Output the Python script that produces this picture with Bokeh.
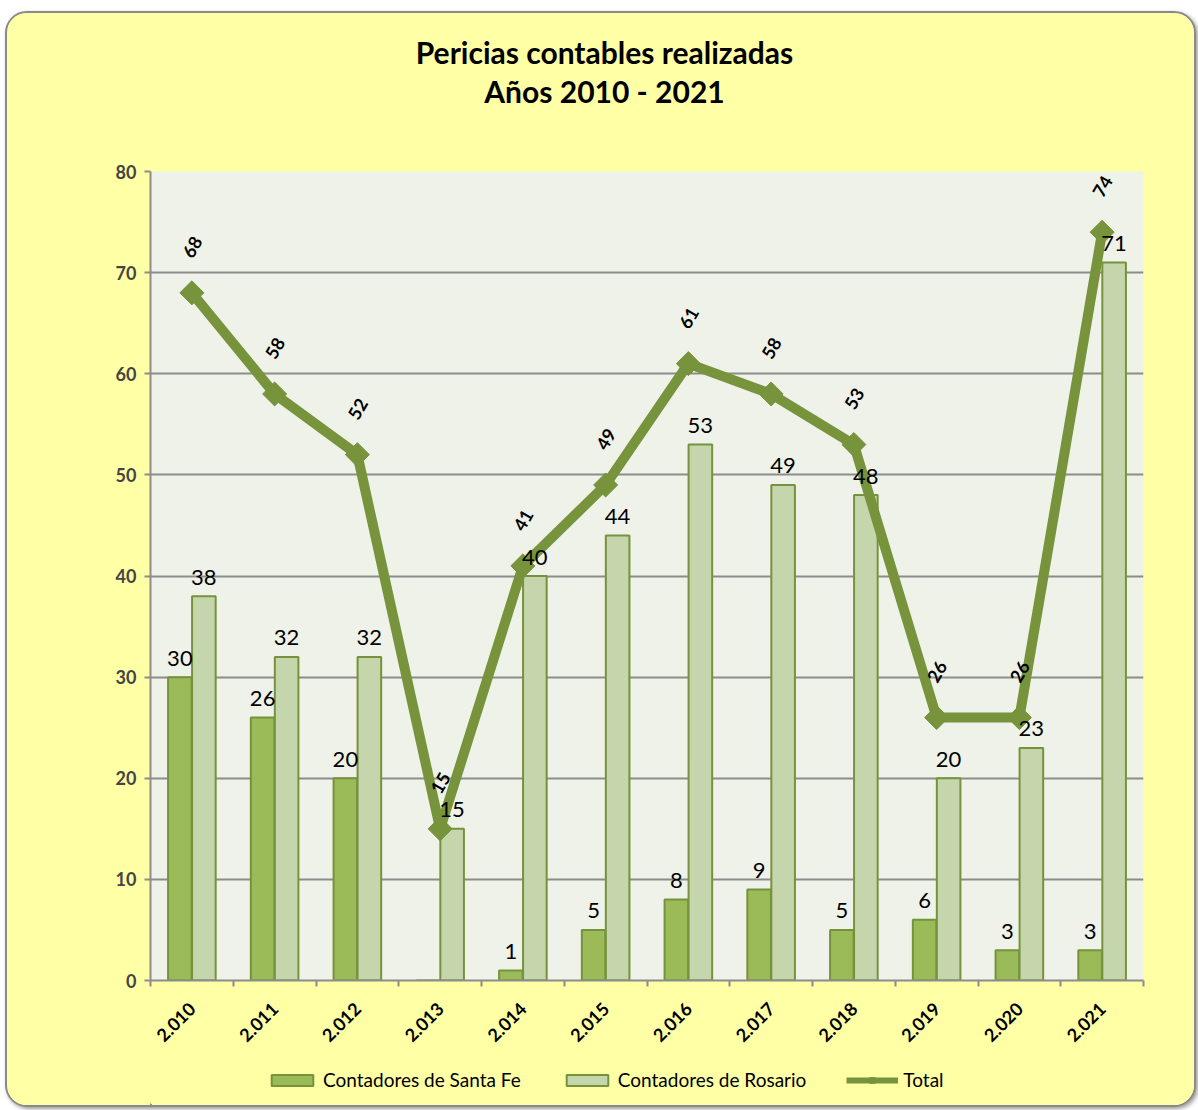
import numpy as np
from bokeh.plotting import figure
from bokeh.layouts import column
from bokeh.models import (Range1d, FixedTicker, Legend, LegendItem, ColumnDataSource)
from bokeh.core.properties import value
from bokeh.embed import file_html
from bokeh.resources import INLINE

years = ["2.010", "2.011", "2.012", "2.013", "2.014", "2.015",
         "2.016", "2.017", "2.018", "2.019", "2.020", "2.021"]
santa_fe = [30, 26, 20, 0, 1, 5, 8, 9, 5, 6, 3, 3]
rosario = [38, 32, 32, 15, 40, 44, 53, 49, 48, 20, 23, 71]
total = [68, 58, 52, 15, 41, 49, 61, 58, 53, 26, 26, 74]
y_ticks = [0, 10, 20, 30, 40, 50, 60, 70, 80]
title_lines = ["Pericias contables realizadas", "Años 2010 - 2021"]
series_names = ["Contadores de Santa Fe", "Contadores de Rosario", "Total"]

FONT = "Lato"
YELLOW = "#FFFFA6"
PLOT_BG = "#EFF2E8"
GREEN = "#9BBB59"
LIGHT = "#C6D6AC"
EDGE = "#76923C"
LINE = "#77933C"
GRID = "#8C8C8C"

LB, RB = 143, 51
FW, FH = 993, 809
H0, H2 = 137, 111

xs = np.arange(len(years)) + 0.5
off = 0.145
bw = 0.285
x_range = Range1d(0, 12)

def blank(fig):
    fig.border_fill_color = YELLOW
    fig.background_fill_color = YELLOW
    fig.outline_line_color = None
    fig.xgrid.grid_line_color = None
    fig.ygrid.grid_line_color = None

# ---- title strip
p0 = figure(frame_width=FW, frame_height=H0, output_backend="svg", toolbar_location=None,
            x_range=Range1d(0, FW), y_range=Range1d(0, H0),
            min_border_left=LB, min_border_right=RB, min_border_top=0, min_border_bottom=0,
            x_axis_location=None, y_axis_location=None)
blank(p0)
p0.text(x=[454, 454], y=[99, 60], text=title_lines, text_align="center", text_baseline="middle",
        text_font=value(FONT), text_font_size="30px", text_font_style="bold", text_color="black")

# ---- main plot
p = figure(frame_width=FW, frame_height=FH, output_backend="svg", toolbar_location=None,
           x_range=x_range, y_range=Range1d(0, 80),
           min_border_left=LB, min_border_right=RB, min_border_top=21, min_border_bottom=14)
p.border_fill_color = YELLOW
p.background_fill_color = PLOT_BG
p.outline_line_color = None

src_sf = ColumnDataSource(dict(x=xs - off, top=santa_fe))
src_ro = ColumnDataSource(dict(x=xs + off, top=rosario))
p.vbar(x="x", top="top", width=bw, source=src_sf, fill_color=GREEN, line_color=EDGE, line_width=2)
p.vbar(x="x", top="top", width=bw, source=src_ro, fill_color=LIGHT, line_color=EDGE, line_width=2)
p.line(xs, total, line_color=LINE, line_width=10)
p.scatter(xs, total, marker="square", angle=np.pi / 4, size=17, fill_color=LINE, line_color=LINE)

sf_idx = [i for i, v in enumerate(santa_fe) if v > 0]
p.text(x=[xs[i] - off for i in sf_idx], y=[santa_fe[i] for i in sf_idx],
       text=[str(santa_fe[i]) for i in sf_idx], text_align="center", text_baseline="alphabetic",
       y_offset=-19, text_font=value(FONT), text_font_size="22px", text_color="black")
p.text(x=xs + off, y=rosario, text=[str(v) for v in rosario], text_align="center",
       text_baseline="alphabetic", y_offset=-19, text_font=value(FONT), text_font_size="22px",
       text_color="black")
p.text(x=xs, y=total, text=[str(v) for v in total], angle=np.pi / 3, text_align="center",
       text_baseline="middle", y_offset=-46, text_font=value(FONT), text_font_size="18px",
       text_font_style="bold", text_color="black")

p.xgrid.grid_line_color = None
p.ygrid.grid_line_color = GRID
p.ygrid.grid_line_width = 2
p.yaxis.ticker = FixedTicker(ticks=y_ticks)
p.yaxis.axis_line_color = GRID
p.yaxis.axis_line_width = 2
p.yaxis.major_tick_line_color = GRID
p.yaxis.major_tick_line_width = 2
p.yaxis.major_tick_out = 6
p.yaxis.major_tick_in = 0
p.yaxis.minor_tick_line_color = None
p.yaxis.major_label_text_font = FONT
p.yaxis.major_label_text_font_size = "18px"
p.yaxis.major_label_text_font_style = "bold"
p.yaxis.major_label_standoff = 8

p.xaxis.ticker = FixedTicker(ticks=[], minor_ticks=list(range(13)))
p.xaxis.axis_line_color = GRID
p.xaxis.axis_line_width = 2
p.xaxis.major_tick_out = 0
p.xaxis.major_tick_in = 0
p.xaxis.minor_tick_line_color = GRID
p.xaxis.minor_tick_line_width = 2
p.xaxis.minor_tick_out = 6
p.xaxis.minor_tick_in = 0
p.xaxis.major_label_text_font_size = "0px"
p.xaxis.major_label_standoff = 0

# ---- category labels + legend strip
p2 = figure(frame_width=FW, frame_height=H2, output_backend="svg", toolbar_location=None,
            x_range=x_range, y_range=Range1d(0, H2),
            min_border_left=LB, min_border_right=RB, min_border_top=0, min_border_bottom=0,
            x_axis_location=None, y_axis_location=None)
blank(p2)
p2.text(x=xs, y=[100] * len(xs), text=years, angle=np.pi / 4, text_align="right",
        text_baseline="middle", text_font=value(FONT), text_font_size="18px",
        text_font_style="bold", text_color="black")
# legend keys (placed outside the visible x range)
key = ColumnDataSource(dict(x=[-50, -49], y=[1, 1]))
l_sf = p2.vbar(x="x", top="y", width=bw, source=key, fill_color=GREEN, line_color=EDGE, line_width=2)
l_ro = p2.vbar(x="x", top="y", width=bw, source=key, fill_color=LIGHT, line_color=EDGE, line_width=2)
l_line = p2.line(x="x", y="y", source=key, line_color=LINE, line_width=6)
l_pts = p2.scatter(x="x", y="y", source=key, marker="square", angle=np.pi / 4, size=8,
                   fill_color=LINE, line_color=LINE)

legend = Legend(items=[
    LegendItem(label=series_names[0], renderers=[l_sf]),
    LegendItem(label=series_names[1], renderers=[l_ro]),
    LegendItem(label=series_names[2], renderers=[l_line, l_pts]),
], orientation="horizontal", location=(116, 14))
legend.label_text_font = FONT
legend.label_text_font_size = "19px"
legend.label_text_color = "black"
legend.glyph_width = 52
legend.glyph_height = 14
legend.spacing = 40
legend.label_standoff = 5
legend.padding = 0
legend.margin = 0
legend.background_fill_alpha = 0
legend.border_line_color = None
p2.add_layout(legend)

layout = column(p0, p, p2, spacing=0)
layout.styles = {"border": "2px solid #8a8a8a", "border-radius": "22px", "overflow": "hidden",
                 "background-color": YELLOW, "margin": "11px 0 0 5px",
                 "box-shadow": "2px 2px 4px #999"}

open("out.html", "w").write(file_html(layout, INLINE))
